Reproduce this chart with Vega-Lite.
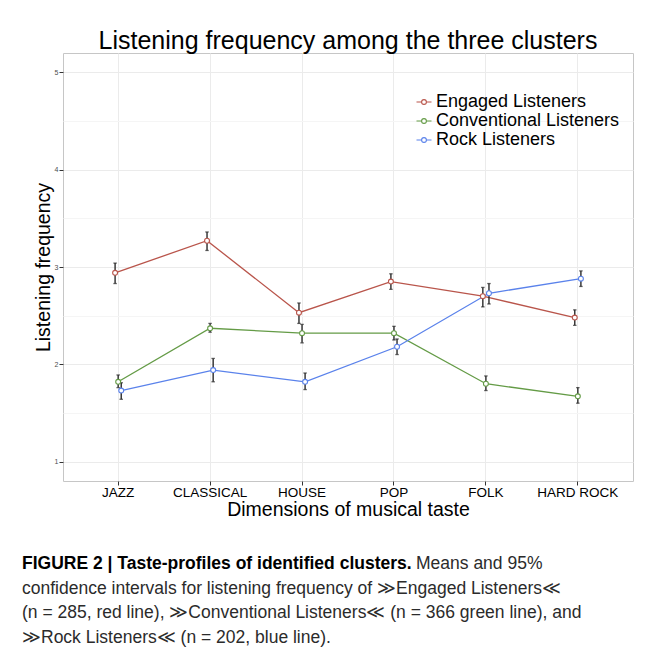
{
  "$schema": "https://vega.github.io/schema/vega-lite/v6.json",
  "background": "white",
  "padding": {"left": 22, "top": 28, "right": 0, "bottom": 0},
  "spacing": 32,
  "datasets": {
    "series": [
      {"taste": "JAZZ", "cluster": "Engaged Listeners", "mean": 2.94, "lo": 2.83, "hi": 3.04},
      {"taste": "CLASSICAL", "cluster": "Engaged Listeners", "mean": 3.27, "lo": 3.17, "hi": 3.36},
      {"taste": "HOUSE", "cluster": "Engaged Listeners", "mean": 2.53, "lo": 2.42, "hi": 2.63},
      {"taste": "POP", "cluster": "Engaged Listeners", "mean": 2.85, "lo": 2.77, "hi": 2.93},
      {"taste": "FOLK", "cluster": "Engaged Listeners", "mean": 2.70, "lo": 2.59, "hi": 2.79},
      {"taste": "HARD ROCK", "cluster": "Engaged Listeners", "mean": 2.48, "lo": 2.40, "hi": 2.56},
      {"taste": "JAZZ", "cluster": "Conventional Listeners", "mean": 1.82, "lo": 1.76, "hi": 1.89},
      {"taste": "CLASSICAL", "cluster": "Conventional Listeners", "mean": 2.37, "lo": 2.33, "hi": 2.42},
      {"taste": "HOUSE", "cluster": "Conventional Listeners", "mean": 2.32, "lo": 2.22, "hi": 2.41},
      {"taste": "POP", "cluster": "Conventional Listeners", "mean": 2.32, "lo": 2.25, "hi": 2.39},
      {"taste": "FOLK", "cluster": "Conventional Listeners", "mean": 1.80, "lo": 1.73, "hi": 1.88},
      {"taste": "HARD ROCK", "cluster": "Conventional Listeners", "mean": 1.67, "lo": 1.60, "hi": 1.76},
      {"taste": "JAZZ", "cluster": "Rock Listeners", "mean": 1.73, "lo": 1.64, "hi": 1.81},
      {"taste": "CLASSICAL", "cluster": "Rock Listeners", "mean": 1.94, "lo": 1.82, "hi": 2.06},
      {"taste": "HOUSE", "cluster": "Rock Listeners", "mean": 1.82, "lo": 1.74, "hi": 1.91},
      {"taste": "POP", "cluster": "Rock Listeners", "mean": 2.18, "lo": 2.10, "hi": 2.26},
      {"taste": "FOLK", "cluster": "Rock Listeners", "mean": 2.73, "lo": 2.62, "hi": 2.83},
      {"taste": "HARD ROCK", "cluster": "Rock Listeners", "mean": 2.88, "lo": 2.80, "hi": 2.96}
    ],
    "caption": [
      {"line": 1, "style": "bold", "text": "FIGURE 2 | Taste-profiles of identified clusters."},
      {"line": 1, "style": "lead", "text": "Means and 95%"},
      {"line": 2, "style": "plain", "text": "confidence intervals for listening frequency of  ≫Engaged Listeners≪"},
      {"line": 3, "style": "plain", "text": "(n = 285, red line), ≫Conventional Listeners≪ (n = 366 green line), and"},
      {"line": 4, "style": "plain", "text": "≫Rock Listeners≪ (n = 202, blue line)."}
    ]
  },
  "vconcat": [
    {
      "width": 570,
      "height": 428,
      "view": {"stroke": "#c6c6c6", "strokeWidth": 1},
      "title": {
        "text": "Listening frequency among the three clusters",
        "fontSize": 25,
        "fontWeight": "normal",
        "color": "#000000",
        "anchor": "middle",
        "frame": "group",
        "baseline": "alphabetic",
        "offset": -21
      },
      "data": {"name": "series"},
      "encoding": {
        "x": {
          "field": "taste",
          "type": "nominal",
          "sort": ["JAZZ", "CLASSICAL", "HOUSE", "POP", "FOLK", "HARD ROCK"],
          "scale": {"type": "band", "paddingInner": 0.9, "paddingOuter": 0.55},
          "title": "Dimensions of musical taste",
          "axis": {
            "labelAngle": 0,
            "labelFontSize": 13.5,
            "labelColor": "#000000",
            "labelPadding": 0,
            "tickSize": 4,
            "tickColor": "#333333",
            "domain": false,
            "grid": true,
            "gridColor": "#ebebeb",
            "bandPosition": 0.5,
            "titleFontSize": 19.5,
            "titleFontWeight": "normal",
            "titleColor": "#000000",
            "titlePadding": 2
          }
        },
        "xOffset": {
          "field": "cluster",
          "type": "nominal",
          "sort": ["Engaged Listeners", "Conventional Listeners", "Rock Listeners"]
        }
      },
      "layer": [
        {
          "mark": {"type": "line", "strokeWidth": 1.3},
          "encoding": {
            "y": {
              "field": "mean",
              "type": "quantitative",
              "title": "Listening frequency",
              "scale": {"domain": [0.8, 5.2], "nice": false, "zero": false},
              "axis": {
                "values": [1, 1.5, 2, 2.5, 3, 3.5, 4, 4.5, 5],
                "labelExpr": "datum.value % 1 == 0 ? format(datum.value, 'd') : ''",
                "labelFontSize": 7,
                "labelColor": "#4d4d4d",
                "labelPadding": 1,
                "tickSize": 4,
                "tickColor": "#333333",
                "tickOpacity": {"condition": {"test": "datum.value % 1 != 0", "value": 0}, "value": 1},
                "gridColor": {"condition": {"test": "datum.value % 1 != 0", "value": "#f5f5f5"}, "value": "#ebebeb"},
                "domain": false,
                "titleFontSize": 19.5,
                "titleFontWeight": "normal",
                "titleColor": "#000000",
                "titlePadding": 1
              }
            },
            "stroke": {
              "field": "cluster",
              "type": "nominal",
              "scale": {
                "domain": ["Engaged Listeners", "Conventional Listeners", "Rock Listeners"],
                "range": ["#B9554B", "#649B46", "#5A82EB"]
              },
              "legend": {
                "title": null,
                "orient": "none",
                "legendX": 352,
                "legendY": 40,
                "symbolType": "M-1,0L-0.32,0M0.32,0L1,0M0.32,0A0.32,0.32,0,1,1,-0.32,0A0.32,0.32,0,1,1,0.32,0Z",
                "symbolSize": 225,
                "symbolFillColor": "white",
                "symbolStrokeWidth": 1.1,
                "labelFontSize": 18,
                "labelColor": "#000000",
                "labelOffset": 3,
                "labelLimit": 400,
                "rowPadding": 1,
                "padding": 0
              }
            }
          }
        },
        {
          "mark": {"type": "rule", "color": "#2a2a2a", "strokeWidth": 1.4},
          "encoding": {
            "y": {"field": "lo", "type": "quantitative", "title": "Listening frequency"},
            "y2": {"field": "hi"}
          }
        },
        {
          "mark": {"type": "tick", "color": "#2a2a2a", "size": 3.5, "thickness": 1.3, "orient": "horizontal"},
          "encoding": {"y": {"field": "lo", "type": "quantitative", "title": "Listening frequency"}}
        },
        {
          "mark": {"type": "tick", "color": "#2a2a2a", "size": 3.5, "thickness": 1.3, "orient": "horizontal"},
          "encoding": {"y": {"field": "hi", "type": "quantitative", "title": "Listening frequency"}}
        },
        {
          "mark": {"type": "point", "filled": false, "fill": "white", "fillOpacity": 1, "opacity": 1, "size": 24, "strokeWidth": 1.1},
          "encoding": {
            "y": {"field": "mean", "type": "quantitative", "title": "Listening frequency"},
            "stroke": {"field": "cluster", "type": "nominal"}
          }
        }
      ]
    },
    {
      "width": 600,
      "height": 98,
      "view": {"stroke": null},
      "data": {"name": "caption"},
      "encoding": {
        "y": {"field": "line", "type": "ordinal", "axis": null, "scale": {"type": "point", "padding": 0.5}}
      },
      "layer": [
        {
          "transform": [{"filter": "datum.style == 'bold'"}],
          "mark": {"type": "text", "align": "left", "baseline": "middle", "fontSize": 17.5, "fontWeight": "bold", "color": "#000000", "dx": -41},
          "encoding": {"x": {"value": 0}, "text": {"field": "text"}}
        },
        {
          "transform": [{"filter": "datum.style == 'lead'"}],
          "mark": {"type": "text", "align": "left", "baseline": "middle", "fontSize": 17.5, "dx": 353, "color": "#2b2b2b"},
          "encoding": {"x": {"value": 0}, "text": {"field": "text"}}
        },
        {
          "transform": [{"filter": "datum.style == 'plain'"}],
          "mark": {"type": "text", "align": "left", "baseline": "middle", "fontSize": 17.5, "color": "#2b2b2b", "dx": -41},
          "encoding": {"x": {"value": 0}, "text": {"field": "text"}}
        }
      ]
    }
  ],
  "config": {
    "font": "Liberation Sans",
    "axis": {"labelFont": "Liberation Sans", "titleFont": "Liberation Sans"},
    "legend": {"labelFont": "Liberation Sans"},
    "title": {"font": "Liberation Sans"}
  }
}
